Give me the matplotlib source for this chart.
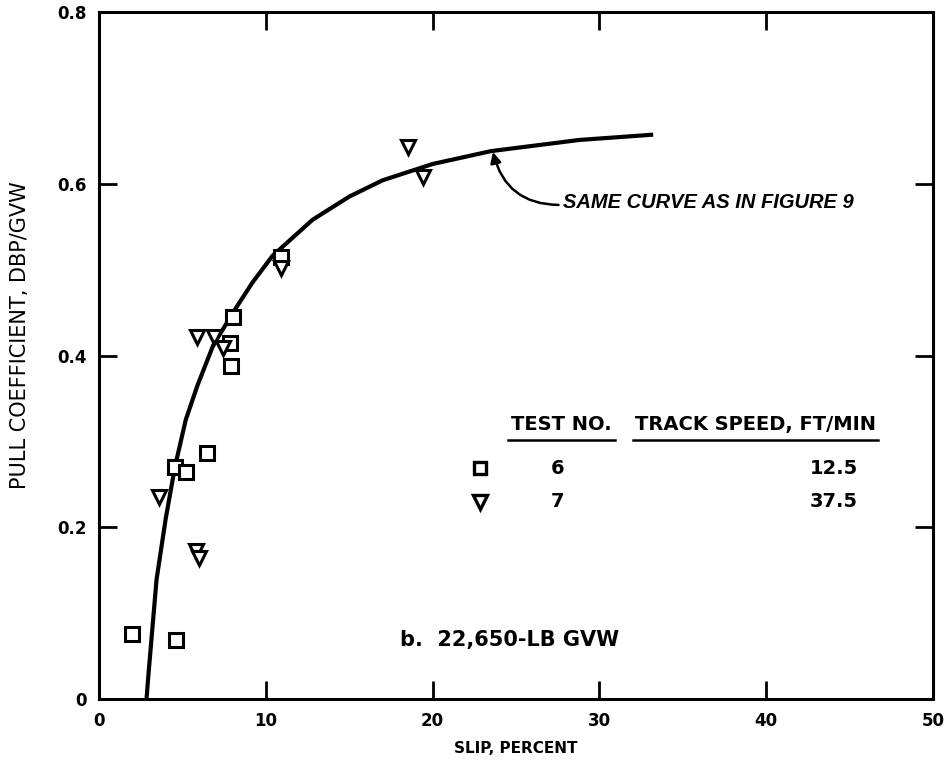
"""Pull coefficient vs slip, test 6 and 7 (22,650-lb GVW)."""

import matplotlib

matplotlib.use("Agg")
import matplotlib.pyplot as plt

plt.rcParams["font.family"] = ["DejaVu Sans"]

# data
test6_slip = [2.0, 4.6, 4.55, 5.24, 6.48, 7.9, 7.86, 8.03, 10.93]
test6_pull = [0.076, 0.069, 0.270, 0.264, 0.287, 0.388, 0.415, 0.445, 0.515]

test7_slip = [3.59, 5.80, 6.0, 5.88, 6.88, 7.43, 10.93, 18.54, 19.44]
test7_pull = [0.235, 0.172, 0.164, 0.422, 0.422, 0.409, 0.502, 0.643, 0.608]

curve_slip = [2.85, 2.95, 3.45, 4.0, 4.55, 5.2, 5.9, 6.85, 8.1, 9.2,
              10.4, 12.8, 15.0, 17.0, 20.0, 23.5, 28.8, 33.1]
curve_pull = [0.0, 0.025, 0.139, 0.21, 0.270, 0.325, 0.365, 0.412, 0.452, 0.485,
              0.516, 0.558, 0.585, 0.604, 0.623, 0.638, 0.651, 0.657]

x_ticks = [0, 10, 20, 30, 40, 50]
y_ticks = [0, 0.2, 0.4, 0.6, 0.8]
y_tick_labels = ["0", "0.2", "0.4", "0.6", "0.8"]

legend_tests = ["6", "7"]
legend_speeds = ["12.5", "37.5"]

fig = plt.figure(figsize=(9.5, 7.69), dpi=100)
ax = fig.add_axes([0.1042, 0.0910, 0.8779, 0.8934])

ax.plot(curve_slip, curve_pull, color="black", lw=3.0, solid_joinstyle="round")
ax.plot(test6_slip, test6_pull, ls="none", marker="s", ms=9.5, mfc="white",
        mec="black", mew=2.2)
ax.plot(test7_slip, test7_pull, ls="none", marker="v", ms=10.5, mfc="white",
        mec="black", mew=2.2)

ax.set_xlim(0, 50)
ax.set_ylim(0, 0.8)
ax.set_xticks(x_ticks)
ax.set_xticklabels([str(t) for t in x_ticks])
ax.set_yticks(y_ticks)
ax.set_yticklabels(y_tick_labels)
ax.tick_params(direction="in", length=13, width=2, top=True, right=True,
               labelsize=12)
ax.tick_params(axis="x", pad=9)
ax.tick_params(axis="y", pad=9)
for lab in ax.get_xticklabels() + ax.get_yticklabels():
    lab.set_fontweight("bold")
for sp in ax.spines.values():
    sp.set_linewidth(2.2)

ax.set_xlabel("SLIP, PERCENT", fontsize=11, fontweight="bold", labelpad=8)
ax.set_ylabel("PULL COEFFICIENT, DBP/GVW", fontsize=15)
ax.yaxis.set_label_coords(-0.083, 0.53)

ax.annotate(
    "SAME CURVE AS IN FIGURE 9",
    xy=(23.62, 0.637), xycoords="data",
    xytext=(0.556, 0.722), textcoords="axes fraction",
    ha="left", va="center", fontsize=14.5, fontweight="bold", style="italic",
    family=["Liberation Sans", "DejaVu Sans"],
    arrowprops=dict(arrowstyle="-|>", color="black", lw=1.8,
                    mutation_scale=16, shrinkA=1, shrinkB=0, relpos=(0, 0.4),
                    connectionstyle="arc3,rad=-0.4"),
)

ax.text(0.361, 0.086, "b.  22,650-LB GVW", transform=ax.transAxes,
        ha="left", va="center", fontsize=15, fontweight="bold")

# legend table
ax.text(0.554, 0.399, "TEST NO.", transform=ax.transAxes, ha="center",
        va="center", fontsize=14, fontweight="bold")
ax.text(0.787, 0.399, "TRACK SPEED, FT/MIN", transform=ax.transAxes,
        ha="center", va="center", fontsize=14, fontweight="bold")
ax.plot([0.490, 0.619], [0.377, 0.377], transform=ax.transAxes, color="black",
        lw=1.8)
ax.plot([0.640, 0.934], [0.377, 0.377], transform=ax.transAxes, color="black",
        lw=1.8)

key_markers = ["s", "v"]
key_y = [0.336, 0.287]
for mk, yk, tno, spd in zip(key_markers, key_y, legend_tests, legend_speeds):
    ax.plot([0.457], [yk], transform=ax.transAxes, ls="none", marker=mk,
            ms=9 if mk == "s" else 10, mfc="white", mec="black", mew=2.4,
            clip_on=False)
    ax.text(0.550, yk, tno, transform=ax.transAxes, ha="center", va="center",
            fontsize=14, fontweight="bold")
    ax.text(0.881, yk, spd, transform=ax.transAxes, ha="center", va="center",
            fontsize=14, fontweight="bold")

fig.savefig("out.png", dpi=100)
